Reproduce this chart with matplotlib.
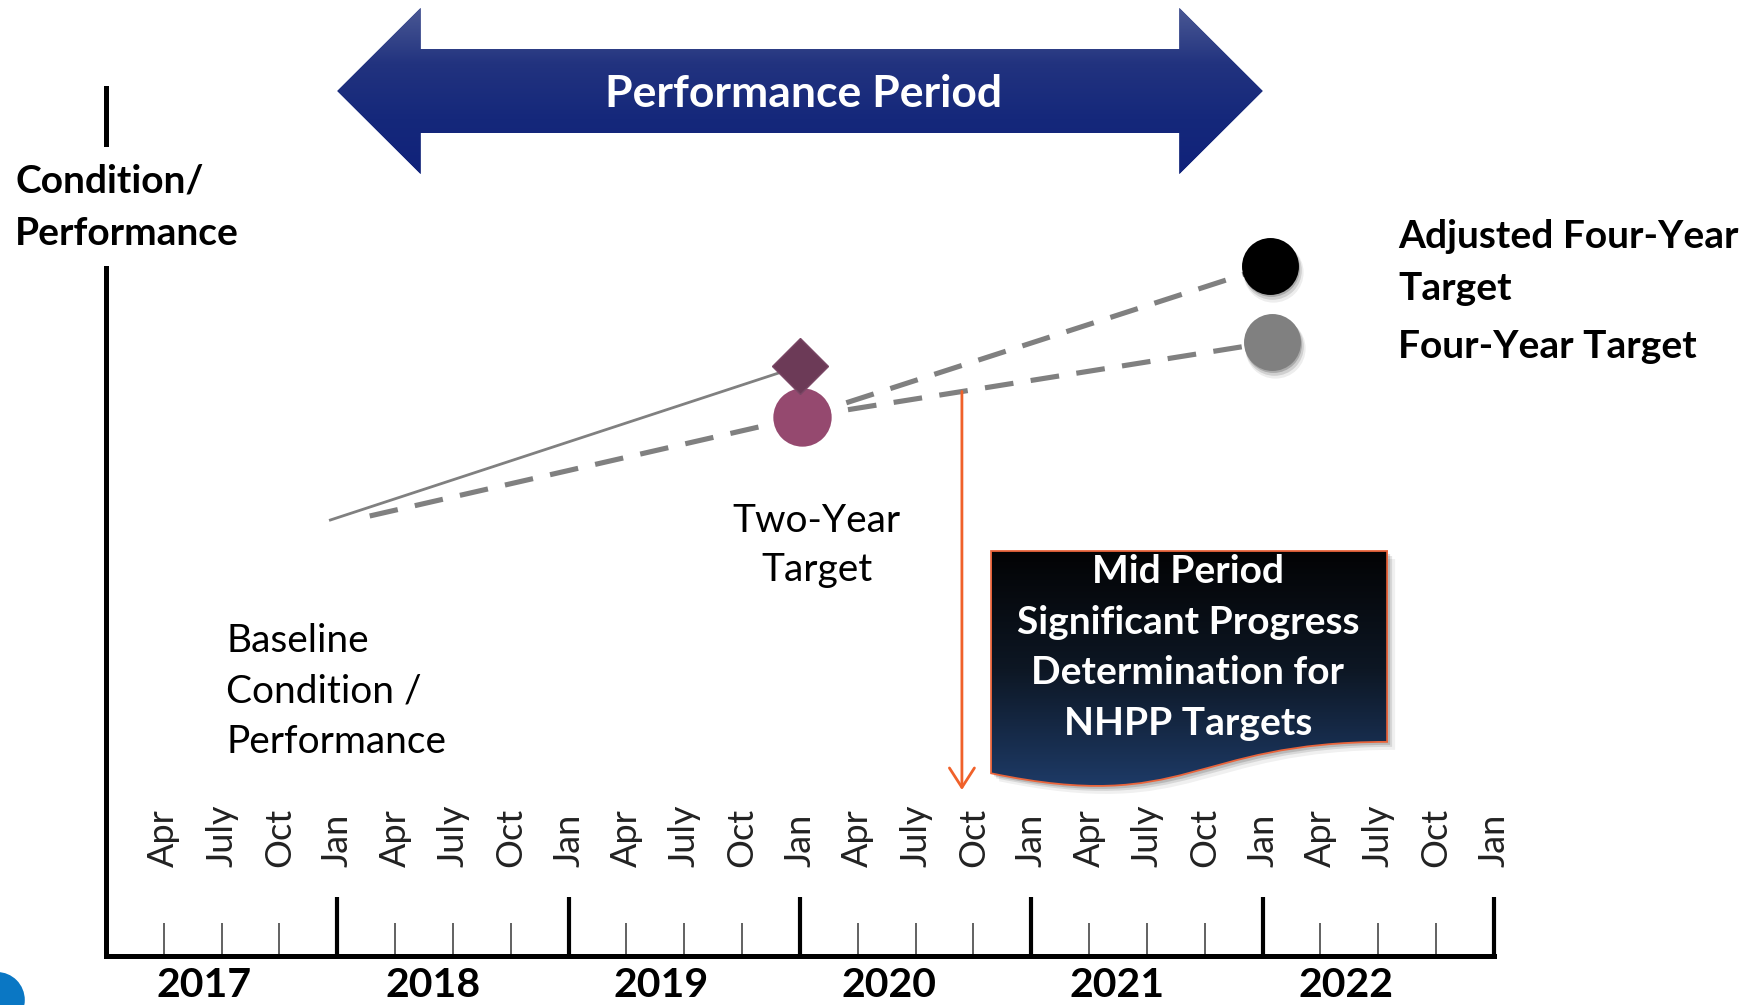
import numpy as np
import matplotlib
matplotlib.use('Agg')
import matplotlib.pyplot as plt
from matplotlib.path import Path
from matplotlib.patches import PathPatch, Polygon, Ellipse
from matplotlib.colors import LinearSegmentedColormap
from matplotlib import transforms

plt.rcParams['font.family'] = ['Lato', 'DejaVu Sans']

# time axis
years = [2017, 2018, 2019, 2020, 2021, 2022]
months = ['Apr', 'July', 'Oct', 'Jan']
period = [2018.0, 2022.0]          # performance period (banner)

# condition / performance (arbitrary units, 0 = time axis)
actual_x = [2017.97, 2020.0]       # solid line: baseline -> actual at two years
actual_y = [43.6, 59.0]
target_x = [2018.14, 2020.01]      # dashed: baseline -> two-year target
target_y = [44.0, 53.9]
four_x = [2020.01, 2022.04]        # dashed: two-year -> four-year target
four_y = [53.9, 61.4]
adj_x = [2020.01, 2022.03]         # dashed: two-year -> adjusted four-year target
adj_y = [53.9, 69.0]
mid_period = 2020.70               # mid period determination (Oct 2020)

FS = 28  # body text size

fig = plt.figure(figsize=(17.52, 10.05), dpi=100)
ax = fig.add_axes([0, 0, 1, 1])
ax.set_xlim(2016.5418, 2024.1154)
ax.set_ylim(-4.9, 95.6)
ax.axis('off')


def gradient_fill(patch, colors, extent, z):
    cmap = LinearSegmentedColormap.from_list('g', colors)
    grad = np.linspace(0, 1, 256).reshape(-1, 1)
    im = ax.imshow(grad, cmap=cmap, extent=extent, aspect='auto',
                   origin='upper', interpolation='bicubic', zorder=z)
    im.set_clip_path(patch)


def shadowed(x, y, ms, color, z):
    for k, (d, a) in enumerate([(2, .18), (4, .12), (6, .07)]):
        tr = transforms.offset_copy(ax.transData, fig=fig, x=d * 0.5, y=-d,
                                    units='dots')
        ax.plot([x], [y], 'o', ms=ms + k * 1.2, color='black', alpha=a,
                mec='none', transform=tr, zorder=z - 0.1)
    ax.plot([x], [y], 'o', ms=ms, color=color, mec='none', zorder=z)


# ---- time axis ----
t0, t1 = years[0], years[-1] + 1
ax.plot([t0, t0, t1], [68.8, 0, 0], color='black', lw=3.6,
        solid_joinstyle='miter', zorder=3)
ax.plot([t0, t0], [81.2, 86.8], color='black', lw=3.6, zorder=3)
quarters = np.arange(t0 + 0.25, t1 + 0.01, 0.25)
major = [q for q in quarters if q == int(q)]
minor = [q for q in quarters if q != int(q)]
ax.vlines(major, 0, 5.9, color='black', lw=3)
ax.vlines(minor, 0, 3.3, color='#555555', lw=1.3)
for i, q in enumerate(quarters):
    ax.text(q, 8.9, months[i % 4], rotation=90, ha='center', va='bottom',
            fontsize=26, color='#222222')
for i, yr in enumerate(years):
    ax.text(yr + 0.5 - 0.074 - 0.0135 * i, -4.1, str(yr), ha='center',
            va='baseline', fontsize=29.5, fontweight='bold')

ax.text(2016.607, 76.3, 'Condition/', fontsize=FS, fontweight='bold',
        va='baseline')
ax.text(2016.607, 71.1, 'Performance', fontsize=FS, fontweight='bold',
        va='baseline')

# ---- performance period banner ----
p0, p1 = period
hl = 0.36
banner = Polygon([(p0, 86.5), (p0 + hl, 94.8), (p0 + hl, 90.7),
                  (p1 - hl, 90.7), (p1 - hl, 94.8), (p1, 86.5),
                  (p1 - hl, 78.2), (p1 - hl, 82.3), (p0 + hl, 82.3),
                  (p0 + hl, 78.2)], closed=True, fc='#172a7c', ec='none',
                 zorder=2)
ax.add_patch(banner)
gradient_fill(banner, ['#4a5894', '#22337f', '#15287b', '#10227a'],
              (p0, p1, 78.2, 94.8), 2.1)
ax.text((p0 + p1) / 2 + 0.017, 84.9, 'Performance Period', color='white',
        fontsize=32, fontweight='bold', ha='center', va='baseline', zorder=3)

# ---- lines and markers ----
ax.plot(actual_x, actual_y, color='#808080', lw=2, zorder=4)
for xs, ys in [(target_x, target_y), (four_x, four_y), (adj_x, adj_y)]:
    ax.plot(xs, ys, color='#808080', lw=3.7, dashes=(5.6, 3.4), zorder=4)

shadowed(adj_x[-1], adj_y[-1], 41, 'black', 6)
shadowed(four_x[-1], four_y[-1], 41, '#808080', 6)
ax.plot([target_x[-1]], [target_y[-1]], 'o', ms=42, color='#95496f',
        mec='none', zorder=6)
ax.plot([actual_x[-1]], [actual_y[-1]], 'D', ms=29, color='#6c3a57',
        mec='#7a4765', mew=1, zorder=7)

ax.text(2022.585, 70.8, 'Adjusted Four-Year', fontsize=FS,
        fontweight='bold', va='baseline')
ax.text(2022.585, 65.6, 'Target', fontsize=FS, fontweight='bold',
        va='baseline')
ax.text(2022.585, 59.8, 'Four-Year Target', fontsize=FS, fontweight='bold',
        va='baseline')
ax.text(2020.073, 42.4, 'Two-Year', fontsize=FS, ha='center', va='baseline')
ax.text(2020.073, 37.5, 'Target', fontsize=FS, ha='center', va='baseline')
for k, s in enumerate(['Baseline', 'Condition /', 'Performance']):
    ax.text(2017.519, 30.4 - 5.05 * k, s, fontsize=FS, va='baseline')

# ---- mid period arrow ----
y_start = np.interp(mid_period, four_x, four_y)
ax.annotate('', xy=(mid_period, 16.6), xytext=(mid_period, y_start),
            arrowprops=dict(arrowstyle='->,head_length=0.7,head_width=0.45',
                            color='#f0612a', lw=2, shrinkA=0, shrinkB=0,
                            mutation_scale=20), zorder=5)

# ---- callout box ----
L, R, T, h = 2020.826, 2022.538, 40.5, 23.8
M = (L + R) / 2
verts = [(L, T), (R, T), (R, T - 0.802 * h), (M, T - 0.802 * h),
         (M, T - 1.107 * h), (L, T - 0.934 * h), (L, T)]
codes = [Path.MOVETO, Path.LINETO, Path.LINETO, Path.CURVE4, Path.CURVE4,
         Path.CURVE4, Path.CLOSEPOLY]
box_path = Path(verts, codes)
for d, a in [(3, .14), (5, .1), (8, .06)]:
    tr = transforms.offset_copy(ax.transData, fig=fig, x=d, y=-d, units='dots')
    ax.add_patch(PathPatch(box_path, fc='black', ec='none', alpha=a,
                           transform=tr, zorder=4))
box = PathPatch(box_path, fc='#0e1a2a', ec='none', zorder=5)
ax.add_patch(box)
gradient_fill(box, ['#030304', '#0d1724', '#1e3b68'], (L, R, T - h, T), 5.1)
ax.add_patch(PathPatch(box_path, fc='none', ec='#e9643b', lw=1.3, zorder=5.2))
for k, s in enumerate(['Mid Period', 'Significant Progress',
                       'Determination for', 'NHPP Targets']):
    ax.text(2021.677, 37.3 - 5.06 * k, s, color='white', fontsize=FS,
            fontweight='bold', ha='center', va='baseline', zorder=6)

# corner logo fragment
ax.add_patch(Ellipse((2016.529, -4.4), 0.24, 5.6, fc='#0a77c4', ec='none'))

fig.savefig('out.png', dpi=100)
